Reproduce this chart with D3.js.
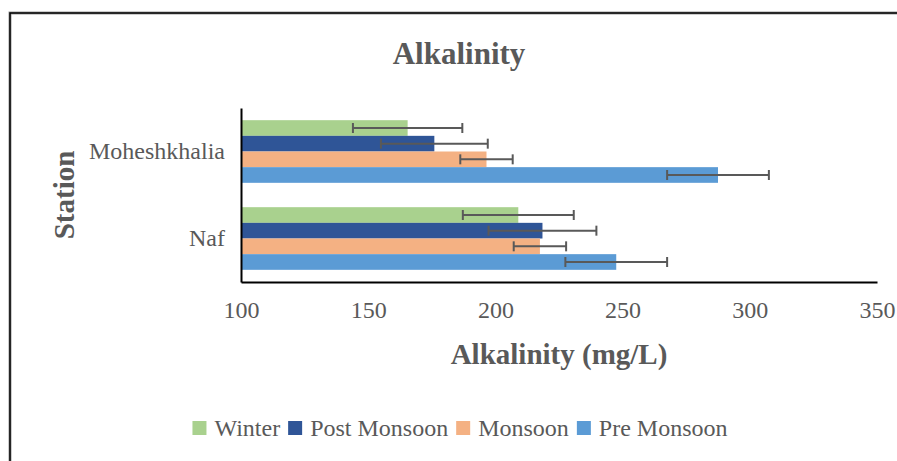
<!DOCTYPE html>
<html>
<head>
<meta charset="utf-8">
<script src="https://cdn.jsdelivr.net/npm/d3@7"></script>
<style>
  body { margin: 0; background: #fff; }
  svg { display: block; font-family: "Liberation Serif", "Times New Roman", serif; }
</style>
</head>
<body>
<div id="chart"></div>
<script>
// stations, top to bottom
var stations = ['Moheshkhalia', 'Naf'];
// series, in bar order inside each group (top to bottom)
var seasons = ['Winter', 'Post Monsoon', 'Monsoon', 'Pre Monsoon'];
var colors = ['#a9d18e', '#2f5597', '#f4b183', '#5b9bd5'];
// mean alkalinity (mg/L) per season, same order as stations
var winter = [165.5, 209];
var postMonsoon = [176, 218.5];
var monsoon = [196.5, 217.5];
var preMonsoon = [287.5, 247.5];
// error (+/-)
var winterErr = [21.5, 21.8];
var postMonsoonErr = [21, 21.2];
var monsoonErr = [10.3, 10.3];
var preMonsoonErr = [20, 20];
var xTicks = [100, 150, 200, 250, 300, 350];

var values = [winter, postMonsoon, monsoon, preMonsoon];
var errors = [winterErr, postMonsoonErr, monsoonErr, preMonsoonErr];

var rows = [];
stations.forEach(function(st, i) {
  seasons.forEach(function(se, j) {
    rows.push({ station: st, season: se, value: values[j][i], err: errors[j][i], color: colors[j] });
  });
});

var W = 897, H = 461;
var svg = d3.select('#chart').append('svg').attr('width', W).attr('height', H);

// outer frame
svg.append('rect')
  .attr('x', 10).attr('y', 13).attr('width', W + 20).attr('height', H + 20)
  .attr('fill', 'none').attr('stroke', '#9a9a9a').attr('stroke-width', 3);
svg.append('rect')
  .attr('x', 10).attr('y', 13).attr('width', W + 20).attr('height', H + 20)
  .attr('fill', 'none').attr('stroke', '#000').attr('stroke-width', 1.5);

var plotLeft = 241, plotRight = 877, plotTop = 108, plotBottom = 282;

var x = d3.scaleLinear().domain([100, 350]).range([plotLeft, plotRight]);
var y = d3.scaleBand().domain(stations).range([plotTop, plotBottom])
  .paddingInner(0.28).paddingOuter(0.14);
var yIn = d3.scaleBand().domain(seasons).range([0, y.bandwidth()]);

// bars
svg.selectAll('.bar')
  .data(rows)
  .enter()
  .append('rect')
  .attr('class', 'bar')
  .attr('x', x(100))
  .attr('y', function(d) { return y(d.station) + yIn(d.season); })
  .attr('width', function(d) { return x(d.value) - x(100); })
  .attr('height', yIn.bandwidth())
  .attr('fill', function(d) { return d.color; });

// error bars
var eb = svg.selectAll('.err')
  .data(rows)
  .enter()
  .append('g')
  .attr('class', 'err')
  .attr('transform', function(d) {
    return 'translate(0,' + (y(d.station) + yIn(d.season) + yIn.bandwidth() / 2) + ')';
  })
  .attr('stroke', '#595959')
  .attr('stroke-width', 2);
eb.append('line')
  .attr('x1', function(d) { return x(d.value - d.err); })
  .attr('x2', function(d) { return x(d.value + d.err); });
eb.append('line')
  .attr('x1', function(d) { return x(d.value - d.err); })
  .attr('x2', function(d) { return x(d.value - d.err); })
  .attr('y1', -5).attr('y2', 5);
eb.append('line')
  .attr('x1', function(d) { return x(d.value + d.err); })
  .attr('x2', function(d) { return x(d.value + d.err); })
  .attr('y1', -5).attr('y2', 5);

// axes
var xAxis = svg.append('g')
  .attr('transform', 'translate(0,' + plotBottom + ')')
  .call(d3.axisBottom(x).tickValues(xTicks).tickSize(0).tickPadding(19));
xAxis.select('.domain').attr('stroke', '#000').attr('stroke-width', 2);
xAxis.selectAll('text')
  .attr('fill', '#595959')
  .style('font-size', '24px')
  .style('font-family', '"Liberation Serif", serif');

var yAxis = svg.append('g')
  .attr('transform', 'translate(' + plotLeft + ',0)')
  .call(d3.axisLeft(y).tickSize(0).tickPadding(16));
yAxis.select('.domain').attr('stroke', '#000').attr('stroke-width', 2);
yAxis.selectAll('text')
  .attr('fill', '#595959')
  .style('font-size', '24px')
  .style('font-family', '"Liberation Serif", serif');

// titles
svg.append('text')
  .attr('x', 459).attr('y', 64)
  .attr('text-anchor', 'middle')
  .attr('fill', '#595959')
  .style('font-size', '31px').style('font-weight', 'bold')
  .text('Alkalinity');

svg.append('text')
  .attr('x', (plotLeft + plotRight) / 2).attr('y', 364)
  .attr('text-anchor', 'middle')
  .attr('fill', '#595959')
  .style('font-size', '29px').style('font-weight', 'bold')
  .text('Alkalinity (mg/L)');

svg.append('text')
  .attr('transform', 'translate(74,' + (plotTop + plotBottom) / 2 + ') rotate(-90)')
  .attr('text-anchor', 'middle')
  .attr('fill', '#595959')
  .style('font-size', '29px').style('font-weight', 'bold')
  .text('Station');

// legend
var legend = svg.append('g');
var lx = 0;
seasons.forEach(function(s, i) {
  var item = legend.append('g').attr('transform', 'translate(' + lx + ',0)');
  item.append('rect')
    .attr('x', 0).attr('y', -15).attr('width', 14).attr('height', 14)
    .attr('fill', colors[i]);
  var t = item.append('text')
    .attr('x', 22).attr('y', 0)
    .attr('fill', '#595959')
    .style('font-size', '24px')
    .text(s);
  lx += 22 + t.node().getComputedTextLength() + 8;
});
legend.attr('transform', 'translate(' + (460 - (lx - 8) / 2) + ',436)');
</script>
</body>
</html>
